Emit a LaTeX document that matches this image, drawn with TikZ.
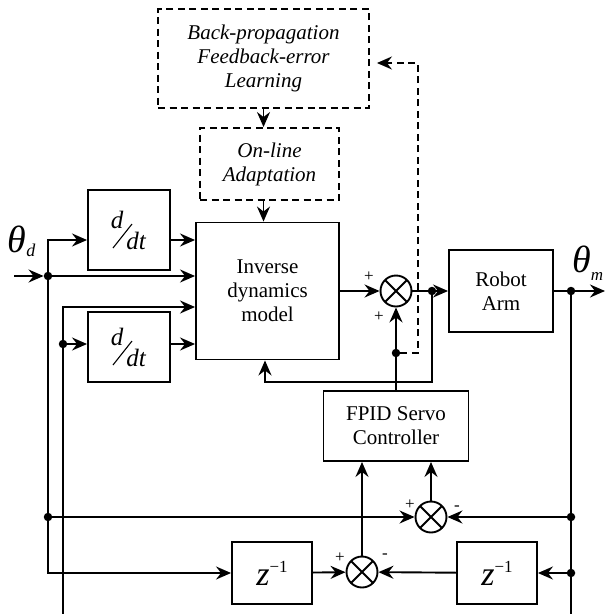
\documentclass[tikz,border=0pt]{standalone}
\usepackage{fontspec}
\setmainfont{Liberation Serif}
\usetikzlibrary{arrows.meta,calc}

\tikzset{
  blk/.style={draw, line width=1.9pt, align=center, inner sep=0pt,
    font=\fontsize{21}{24}\selectfont},
  dashblk/.style={blk, dash pattern=on 7pt off 4.5pt,
    font=\fontsize{21}{24}\selectfont\itshape},
  sumjn/.style={circle, draw, line width=1.9pt, minimum size=31pt, inner sep=0pt,
    path picture={\draw[line width=1.9pt]
      (path picture bounding box.north west) -- (path picture bounding box.south east)
      (path picture bounding box.south west) -- (path picture bounding box.north east);}},
  dot/.style={circle, fill, inner sep=0pt, minimum size=8.5pt},
  sgn/.style={inner sep=0pt, font=\fontsize{17}{17}\selectfont},
  ln/.style={line width=1.9pt},
  wire/.style={line width=1.9pt, -{Stealth[length=15pt,width=13pt,inset=5pt]}},
  dwire/.style={wire, dash pattern=on 7pt off 4.5pt},
}

\begin{document}
\begin{tikzpicture}[x=1pt, y=-1pt]
\useasboundingbox (0,0) rectangle (605,614);

% learning part (dashed)
\node[dashblk, minimum width=211pt, minimum height=99pt] (bp) at (263.5,58.5)
  {Back-propagation\\Feedback-error\\Learning};
\node[dashblk, minimum width=139pt, minimum height=72pt] (ola) at (269.5,164)
  {On-line\\Adaptation};

% main blocks
\node[blk, minimum width=143pt, minimum height=137pt] (idm) at (267.5,291)
  {Inverse\\dynamics\\model};
\node[blk, minimum width=104pt, minimum height=82pt] (ra) at (501,291) {Robot\\Arm};
\node[blk, minimum width=145pt, minimum height=70pt] (fpid) at (396,426)
  {FPID Servo\\Controller};

% derivative blocks
\node[blk, minimum width=82pt, minimum height=80pt] (ddt1) at (129,230) {};
\node[blk, minimum width=82pt, minimum height=70pt] (ddt2) at (129,347) {};
\foreach \b in {ddt1,ddt2} {
  \node[inner sep=0pt, font=\fontsize{25}{25}\selectfont\itshape] at ($(\b)+(-12,-10)$) {d};
  \node[inner sep=0pt, font=\fontsize{25}{25}\selectfont\itshape] at ($(\b)+(7,11)$) {dt};
  \draw[line width=1.1pt] ($(\b)+(-16,18)$) -- ($(\b)+(3,-6)$);
}

% unit delays
\node[blk, minimum width=80pt, minimum height=62pt] (zl) at (272,573)
  {{\fontsize{34}{34}\selectfont\itshape z}\raisebox{13pt}{\fontsize{17}{17}\selectfont −1}};
\node[blk, minimum width=80pt, minimum height=62pt] (zr) at (497,573)
  {{\fontsize{34}{34}\selectfont\itshape z}\raisebox{13pt}{\fontsize{17}{17}\selectfont −1}};

% summing junctions
\node[sumjn] (sum1) at (396,291) {};
\node[sumjn] (sum2) at (431,517) {};
\node[sumjn] (sum3) at (362,572) {};

% branch points
\node[dot] (j1) at (48,276) {};
\node[dot] (j2) at (63,344) {};
\node[dot] (j3) at (48,517) {};
\node[dot] (ja) at (432,291) {};
\node[dot] (jb) at (396,353) {};
\node[dot] (jo) at (571,291) {};
\node[dot] (jc) at (571,517) {};
\node[dot] (jd) at (571,573) {};

\coordinate (in) at (14,276);
\coordinate (out) at (605,291);
\coordinate (fb1) at (63,614);
\coordinate (fb2) at (571,614);
\coordinate (k1) at (63,307);
\coordinate (fbk) at (265,382);
\coordinate (dk) at (418,63);

% labels
\node[inner sep=0pt, font=\fontsize{38}{38}\selectfont\itshape] (thd) at (17,239) {θ};
\node[inner sep=0pt, font=\fontsize{18}{18}\selectfont\itshape] at (31,250) {d};
\node[inner sep=0pt, font=\fontsize{38}{38}\selectfont\itshape] (thm) at (582,259) {θ};
\node[inner sep=0pt, font=\fontsize{17}{17}\selectfont\itshape] at (597,276) {m};

\node[sgn] at (369,277) {+};
\node[sgn] at (379,317) {+};
\node[sgn] at (410,505) {+};
\node[sgn] at (457,508) {-};
\node[sgn] at (340,558) {+};
\node[sgn] at (385,556) {-};

% reference input and its derivative
\draw[wire] (in) -- (j1);
\draw[wire] (j1) |- ([yshift=-10pt]ddt1.west);
\draw[wire] ([yshift=-10pt]ddt1.east) -- ([yshift=-10pt]ddt1.east -| idm.west);
\draw[wire] (j1) -- (j1 -| idm.west);
\draw[ln] (j1) -- (j3);
\draw[wire] (j3) -- (sum2);
\draw[wire] (j3) |- (zl);

% measured output and its derivative
\draw[ln] (fb1) -- (j2);
\draw[wire] (j2) -- (k1) -- (k1 -| idm.west);
\draw[wire] (j2) -- (j2 -| ddt2.west);
\draw[wire] ([yshift=3pt]ddt2.east) -- ([yshift=3pt]ddt2.east -| idm.west);

% learning loop
\draw[wire] (bp) -- (bp |- ola.north);
\draw[wire] (ola.south -| bp) -- (idm.north -| bp);
\draw[dwire, shorten >=7pt] (jb) -| (dk) -- (dk -| bp.east);

% forward path
\draw[wire] (idm.east |- sum1) -- (sum1);
\draw[ln] (sum1) -- (ja);
\draw[wire] (ja) -- (ra);
\draw[wire] (ja) |- (fbk) -- (fbk |- idm.south);
\draw[wire] (fpid.north -| sum1) -- (sum1);
\draw[ln] (ra) -- (jo);
\draw[wire] (jo) -- (out);
\draw[ln] (jo) -- (fb2);

% error and its difference
\draw[wire] (jc) -- (sum2);
\draw[wire] (jd) -- (zr);
\draw[wire] (zr) -- (sum3);
\draw[wire] (zl) -- (sum3);
\draw[wire] (sum3) -- (sum3 |- fpid.south);
\draw[wire] (sum2) -- (sum2 |- fpid.south);
\end{tikzpicture}
\end{document}
